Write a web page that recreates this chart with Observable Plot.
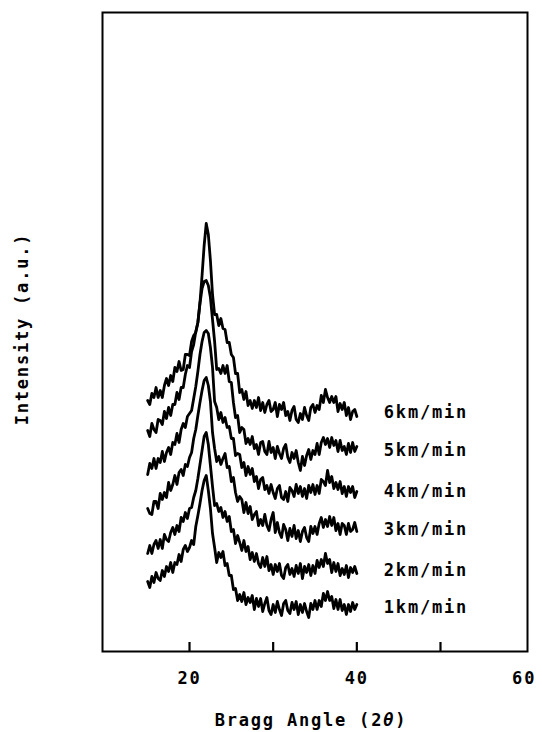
<!DOCTYPE html>
<html><head><meta charset="utf-8">
<script src="https://cdn.jsdelivr.net/npm/d3@7"></script>
<script src="https://cdn.jsdelivr.net/npm/@observablehq/plot@0.6"></script>
<style>
body{margin:0;background:#fff}
svg{display:block}
#chart text{letter-spacing:1.8px}
</style>
</head><body><div id="chart"></div>
<script>
// Spinning speeds (bottom to top) and the vertical stacking offset of each trace
const speeds = ["1km/min", "2km/min", "3km/min", "4km/min", "5km/min", "6km/min"];
const offsets = [46, 83, 124, 162, 203, 241];

// Sampling grid of the diffractograms: 2θ from 15° to 40° every 0.25°
const angleStart = 15;
const angleStep = 0.25;

// Intensities (a.u.), relative to each trace's own baseline
const i1km = [24,18,29,23,33,27,25,35,29,39,34,43,33,43,41,51,44,56,60,54,58,65,61,79,90,102,115,125,130,115,97,72,58,43,53,48,54,40,42,30,30,16,17,5,11,4,13,1,8,3,10,-4,7,-1,7,-6,2,8,-5,-9,1,-7,4,-4,-10,2,5,-5,-8,3,-4,4,-9,1,-7,2,-6,-12,2,-4,5,-4,5,-1,12,5,14,5,9,-3,6,-4,6,-5,1,-9,1,-6,3,-4,1];
const i2km = [15,23,15,24,28,20,29,20,34,29,27,36,41,34,43,37,51,47,56,50,60,61,71,78,90,104,118,132,136,124,103,82,63,65,57,61,51,57,47,52,37,39,25,33,26,18,28,17,22,9,16,7,15,5,1,11,2,12,-2,4,-6,4,-3,5,-7,-10,1,4,-6,0,-8,3,-5,5,-10,2,-4,4,-7,3,-5,8,1,9,2,15,5,9,-4,6,-3,5,-7,0,-6,3,-9,1,-4,2,-5];
const i3km = [19,14,13,26,26,19,34,28,35,30,45,37,43,52,43,55,58,52,63,61,70,75,89,98,112,125,137,147,150,142,126,95,79,66,71,63,69,74,60,61,46,50,35,26,31,28,15,25,14,21,8,13,16,2,8,2,13,2,-3,8,15,-5,5,-5,-10,3,-2,-13,-1,-9,2,-11,-3,-14,-4,0,-10,-14,1,-6,1,-7,4,10,0,8,1,11,2,10,-3,4,-7,4,2,-7,4,-4,-2,5,-4];
const i4km = [15,26,21,31,21,31,27,38,28,37,42,35,47,45,56,47,60,66,62,73,76,79,91,103,118,135,148,157,159,156,142,122,88,82,70,77,67,72,62,63,51,51,34,36,35,22,27,14,23,15,21,8,13,1,10,12,0,4,-4,5,-3,-9,1,4,-8,-10,-2,-12,2,-1,-7,5,-4,3,-7,1,-9,4,-3,5,-5,4,-4,10,8,4,19,7,13,1,7,0,8,-4,3,-7,3,-3,3,-8,-2];
const i5km = [18,12,25,19,16,29,28,24,37,30,41,33,44,44,56,49,61,61,74,83,81,97,104,117,126,145,160,167,168,163,151,129,107,79,80,75,83,75,83,67,66,46,31,33,16,21,19,5,10,4,12,0,4,-6,6,7,-3,-6,7,-4,1,-10,2,-5,-10,0,4,-9,-14,-4,-10,-2,-14,-22,-8,-17,-7,-1,-11,-2,-6,5,-6,6,11,4,10,1,11,3,8,-3,8,-2,2,-6,5,-4,6,-3,2];
const i6km = [10,6,17,13,23,13,20,13,25,32,25,35,29,43,39,49,40,41,56,56,55,69,75,78,88,108,135,165,187,176,150,116,96,96,85,92,82,81,68,68,56,53,37,37,18,21,11,19,5,10,2,10,3,13,0,8,-2,6,10,-1,1,8,-6,6,1,8,-5,-1,-10,0,4,-9,-12,-3,-9,3,-5,-10,3,6,-2,5,1,15,8,21,13,8,14,8,14,-1,7,1,8,-5,3,-9,-1,1,-6];

// Axis ticks and tick labels
const xTicks = [20, 30, 40, 50];
const xTickLabels = [20, 40, 60];
const xTitle = "Bragg Angle (2θ)";
const yTitle = "Intensity (a.u.)";

const series = [i1km, i2km, i3km, i4km, i5km, i6km];
const rows = series.flatMap((vals, k) =>
  vals.map((v, j) => ({speed: speeds[k], angle: angleStart + j * angleStep, intensity: v + offsets[k]}))
);

const font = "'DejaVu Sans Mono', monospace";
const chart = Plot.plot({
  width: 542,
  height: 732,
  marginLeft: 102,
  marginRight: 15,
  marginTop: 12,
  marginBottom: 81,
  x: {domain: [9.6, 60.4], axis: null},
  y: {domain: [0, 639], axis: null},
  style: {fontFamily: font, background: "white", color: "black"},
  marks: [
    Plot.ruleX(xTicks, {x: d => d, y1: 0, y2: 9, stroke: "black", strokeWidth: 2.2}),
    Plot.line(rows, {x: "angle", y: "intensity", z: "speed", stroke: "black", strokeWidth: 2.8, strokeLinejoin: "round", strokeLinecap: "round"}),
    Plot.text(speeds, {x: () => 40, y: (d, i) => offsets[i], dx: 27, dy: 2, text: d => d, textAnchor: "start", lineAnchor: "middle", fontSize: 17, fontWeight: "bold", fill: "black"}),
    Plot.text(xTickLabels, {x: d => d, y: () => 0, dy: 27, text: d => String(d), textAnchor: "middle", lineAnchor: "middle", fontSize: 17, fontWeight: "bold", fill: "black"}),
    Plot.text([xTitle], {frameAnchor: "bottom", dx: -4, dy: 69, text: d => d, textAnchor: "middle", lineAnchor: "middle", fontSize: 17, fontWeight: "bold", fill: "black"}),
    Plot.text([yTitle], {frameAnchor: "left", dx: -80, dy: -3, rotate: -90, text: d => d, textAnchor: "middle", lineAnchor: "middle", fontSize: 17, fontWeight: "bold", fill: "black"}),
    Plot.frame({stroke: "black", strokeWidth: 2})
  ]
});

// italic theta in the x title
d3.select(chart).selectAll("text").filter(function () { return this.textContent === xTitle; }).each(function () {
  const t = d3.select(this);
  t.text(null);
  t.append("tspan").text("Bragg Angle (2");
  t.append("tspan").attr("font-style", "italic").text("θ");
  t.append("tspan").text(")");
});

document.getElementById("chart").appendChild(chart);
</script>
</body></html>
